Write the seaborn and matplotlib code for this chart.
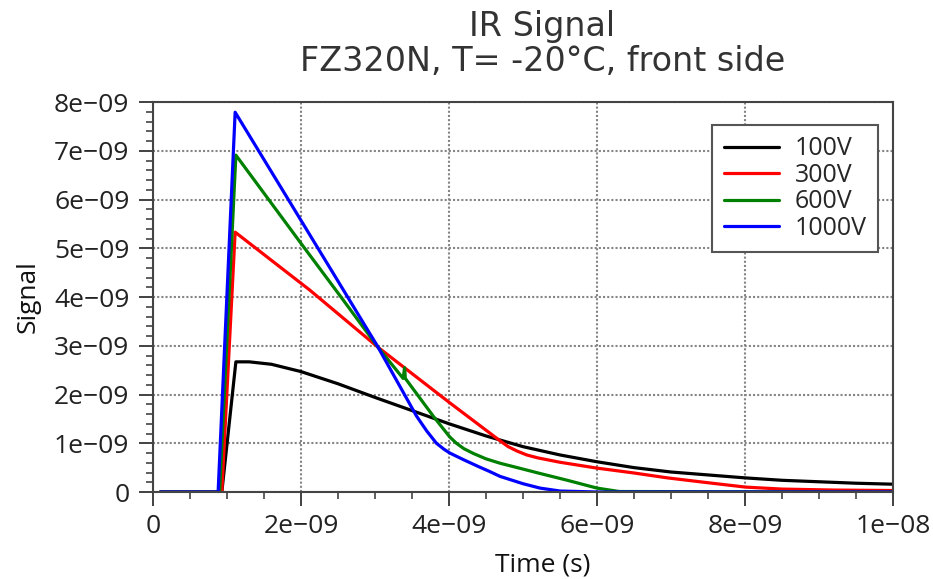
import matplotlib
matplotlib.use("Agg")
import matplotlib.pyplot as plt
from matplotlib.ticker import MultipleLocator, FuncFormatter
import numpy as np
import pandas as pd
import seaborn as sns

# Time stamps (ns) and induced signal (units of 1e-9) for each bias voltage
t_100v = [0.1, 0.93, 1.12, 1.3, 1.6, 2.0, 2.5, 3.0, 3.5, 4.0, 4.5, 5.0, 5.5, 6.0, 6.5, 7.0,
          7.5, 8.0, 8.5, 9.0, 9.5, 10.0]
s_100v = [0.0, 0.0, 2.67, 2.67, 2.62, 2.47, 2.22, 1.94, 1.67, 1.40, 1.15, 0.93, 0.76, 0.62,
          0.50, 0.41, 0.35, 0.29, 0.24, 0.21, 0.18, 0.16]

t_300v = [0.1, 0.93, 1.11, 2.12, 3.04, 4.01, 4.69, 4.8, 4.92, 5.05, 5.2, 5.5, 6.0, 6.5, 6.95,
          7.5, 8.01, 8.5, 9.2, 10.0]
s_300v = [0.0, 0.0, 5.33, 4.14, 2.97, 1.83, 1.05, 0.93, 0.84, 0.76, 0.70, 0.61, 0.49, 0.39,
          0.29, 0.19, 0.10, 0.06, 0.04, 0.03]

t_600v = [0.1, 0.9, 1.12, 2.0, 2.55, 3.04, 3.38, 3.40, 3.41, 3.79, 4.01, 4.1, 4.2, 4.33, 4.5,
          4.69, 5.0, 5.23, 5.6, 6.0, 6.3, 10.0]
s_600v = [0.0, 0.0, 6.91, 5.10, 3.98, 2.97, 2.33, 2.55, 2.33, 1.55, 1.13, 1.0, 0.89, 0.79, 0.68,
          0.59, 0.47, 0.38, 0.24, 0.08, 0.01, 0.0]

t_1000v = [0.1, 0.88, 1.11, 2.49, 3.03, 3.56, 3.7, 3.83, 3.93, 4.01, 4.2, 4.4, 4.55, 4.69, 5.0,
           5.23, 5.5, 6.0, 10.0]
s_1000v = [0.0, 0.0, 7.79, 4.35, 3.00, 1.56, 1.25, 1.0, 0.88, 0.80, 0.66, 0.52, 0.42, 0.32,
           0.17, 0.08, 0.02, 0.0, 0.0]

labels = ["100V", "300V", "600V", "1000V"]
colors = ["#000000", "#ff0000", "#008000", "#0000ff"]

series = [(t_100v, s_100v), (t_300v, s_300v), (t_600v, s_600v), (t_1000v, s_1000v)]
frames = []
for lab, (t, s) in zip(labels, series):
    frames.append(pd.DataFrame({"Time (s)": np.array(t) * 1e-9,
                                "Signal": np.array(s) * 1e-9,
                                "Bias": lab}))
df = pd.concat(frames, ignore_index=True)

sns.set_style("ticks")
plt.rcParams["font.family"] = ["Open Sans", "DejaVu Sans"]
plt.rcParams["axes.unicode_minus"] = True

fig = plt.figure(figsize=(9.33, 5.79), dpi=100)
ax = fig.add_axes([153 / 933, 1 - 492 / 579, 740 / 933, 390 / 579])

sns.lineplot(data=df, x="Time (s)", y="Signal", hue="Bias", hue_order=labels,
             palette=dict(zip(labels, colors)), estimator=None, sort=False,
             linewidth=2.3, ax=ax)

ax.set_xlim(0, 1e-8)
ax.set_ylim(0, 8e-9)
ax.xaxis.set_major_locator(MultipleLocator(2e-9))
ax.xaxis.set_minor_locator(MultipleLocator(5e-10))
ax.yaxis.set_major_locator(MultipleLocator(1e-9))
ax.yaxis.set_minor_locator(MultipleLocator(2e-10))


def sci(v, pos):
    if abs(v) < 1e-15:
        return "0"
    return f"{v:.0e}".replace("-", "\u2212")


ax.xaxis.set_major_formatter(FuncFormatter(sci))
ax.yaxis.set_major_formatter(FuncFormatter(sci))

ax.grid(True, which="major", color="#858585", linestyle=(0, (1, 1)), linewidth=1.5)
for sp in ax.spines.values():
    sp.set_visible(True)
    sp.set_color("#444444")
    sp.set_linewidth(1.5)

ax.tick_params(axis="both", which="major", direction="out", length=10, width=1.3,
               color="#333333", labelsize=19, labelcolor="#222222")
ax.tick_params(axis="both", which="minor", direction="out", length=5, width=1.1,
               color="#333333")
ax.tick_params(axis="x", which="major", pad=6)
ax.tick_params(axis="y", which="major", pad=7)

ax.set_xlabel("Time (s)", fontsize=19, color="#111111")
ax.set_ylabel("Signal", fontsize=19, color="#111111")
ax.xaxis.set_label_coords(0.526, -0.155)
ax.yaxis.set_label_coords(-0.152, 0.5)

ax.set_title("IR Signal\nFZ320N, T= -20\u00b0C, front side", fontsize=24,
             family="DejaVu Sans", color="#333333", x=0.526, pad=22, linespacing=1.1)

sns.move_legend(ax, "upper right", bbox_to_anchor=(0.98, 0.941), title=None,
                fontsize=18, frameon=True, fancybox=False, framealpha=1,
                edgecolor="#555555", handlelength=2.2, handletextpad=0.65,
                labelspacing=0.06, borderpad=0.45, borderaxespad=0)
leg = ax.get_legend()
leg.get_frame().set_linewidth(1.5)
for line in leg.get_lines():
    line.set_linewidth(2.3)

fig.savefig("out.png", dpi=100)
